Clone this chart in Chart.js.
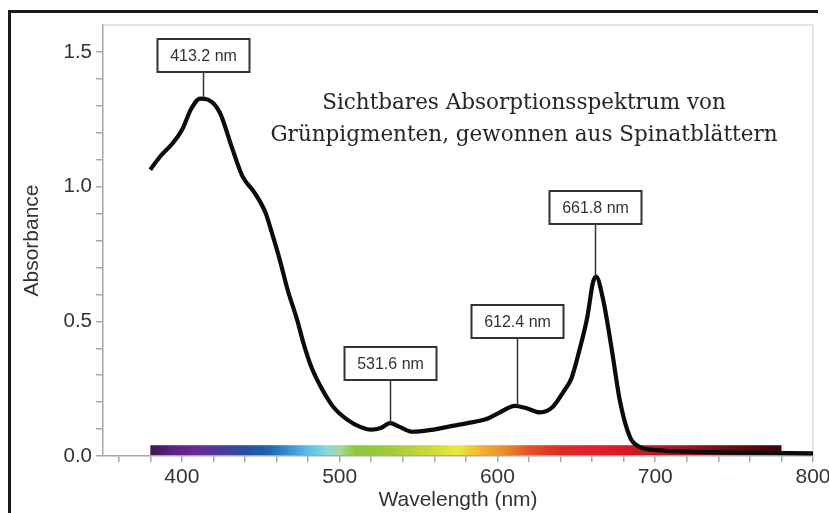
<!DOCTYPE html>
<html>
<head>
<meta charset="utf-8">
<script src="https://cdn.jsdelivr.net/npm/chart.js@4.4.1/dist/chart.umd.min.js"></script>
<style>
  html, body { margin: 0; padding: 0; background: #fff; }
  #wrap { position: relative; width: 829px; height: 513px; overflow: hidden; }
  #frame { position: absolute; left: 8px; top: 10px; width: 807px; height: 520px;
           border-left: 3px solid #1a1a1a; border-top: 3px solid #1a1a1a; }
  canvas { position: absolute; left: 0; top: 0; }
</style>
</head>
<body>
<div id="wrap">
  <div id="frame"></div>
  <canvas id="spectrum-chart" width="829" height="513"></canvas>
</div>
<script>
// --- data ---
const wavelengths = [380, 386, 394, 400, 406, 411.5, 416.5, 424, 432, 438.5, 446, 453, 457, 462, 467, 473, 477, 482,
  488, 496, 505, 513, 520, 526, 532, 538, 546, 558, 570, 581, 593, 601, 611, 618, 627, 635, 642, 647, 652, 657,
  660.5, 662.5, 667, 672.5, 677.5, 684, 690, 701, 728, 760, 800];
const absorbance = [1.063, 1.11, 1.16, 1.21, 1.29, 1.327, 1.323, 1.275, 1.14, 1.037, 0.978, 0.903, 0.829, 0.729, 0.617,
  0.506, 0.42, 0.331, 0.257, 0.182, 0.134, 0.108, 0.098, 0.104, 0.122, 0.108, 0.090, 0.097, 0.110, 0.122, 0.137, 0.160,
  0.186, 0.178, 0.162, 0.182, 0.24, 0.29, 0.394, 0.517, 0.643, 0.666, 0.58, 0.394, 0.208, 0.07, 0.034, 0.022, 0.015,
  0.012, 0.01];

const xTickValues = [360, 380, 400, 420, 440, 460, 480, 500, 520, 540, 560, 580, 600, 620, 640, 660, 680, 700, 720, 740, 760, 780, 800];
const yTickValues = [0, 0.1, 0.2, 0.3, 0.4, 0.5, 0.6, 0.7, 0.8, 0.9, 1.0, 1.1, 1.2, 1.3, 1.4, 1.5];

const peakLabels = ['413.2 nm', '531.6 nm', '612.4 nm', '661.8 nm'];
const peakWavelengths = [413.2, 531.6, 612.4, 661.8];
const peakAbsorbance = [1.33, 0.12, 0.186, 0.666];
const labelLevels = [1.427, 0.283, 0.439, 0.862]; // absorbance at the bottom edge of each label box

const spectrumRange = [380, 780];
const spectrumStops = [
  [380, '#3f1650'], [395, '#5e2385'], [410, '#6a2a96'], [425, '#4b3b9c'], [440, '#2a4fa2'], [455, '#1f62b0'],
  [470, '#3f9ad4'], [482, '#5cc7ea'], [492, '#8fd6da'], [500, '#a8d8a0'], [510, '#8cc63e'], [530, '#9dcb3a'],
  [555, '#c8d83a'], [575, '#ece93e'], [590, '#f0b232'], [605, '#ea8a2c'], [620, '#e25424'], [640, '#dc2a26'],
  [665, '#e01e2c'], [690, '#cc1a22'], [720, '#a0141c'], [750, '#6a0c12'], [780, '#3a0608']
];

const titleLines = ['Sichtbares Absorptionsspektrum von', 'Grünpigmenten, gewonnen aus Spinatblättern'];

const axisGray = '#a8a8a8';
const textGray = '#333';

// light frame round the plot area (top and right)
const plotFrame = {
  id: 'plotFrame',
  beforeDatasetsDraw(chart) {
    const { ctx, chartArea: a } = chart;
    ctx.save();
    ctx.strokeStyle = '#dcdcdc';
    ctx.lineWidth = 1.5;
    ctx.beginPath();
    ctx.moveTo(a.left, a.top);
    ctx.lineTo(a.right, a.top);
    ctx.lineTo(a.right, a.bottom);
    ctx.stroke();
    ctx.restore();
  }
};

// the coloured visible-spectrum strip along the baseline
const spectrumBar = {
  id: 'spectrumBar',
  beforeDatasetsDraw(chart) {
    const { ctx, scales: { x, y } } = chart;
    const x0 = x.getPixelForValue(spectrumRange[0]);
    const x1 = x.getPixelForValue(spectrumRange[1]);
    const yTop = y.getPixelForValue(0.04);
    const yBot = y.getPixelForValue(0) - 1;
    const g = ctx.createLinearGradient(x0, 0, x1, 0);
    const span = spectrumRange[1] - spectrumRange[0];
    spectrumStops.forEach(([w, c]) => g.addColorStop((w - spectrumRange[0]) / span, c));
    ctx.save();
    ctx.fillStyle = g;
    ctx.fillRect(x0, yTop, x1 - x0, yBot - yTop);
    ctx.restore();
  }
};

// peak label boxes with leader lines
const peakCallouts = {
  id: 'peakCallouts',
  afterDatasetsDraw(chart) {
    const { ctx, scales: { x, y } } = chart;
    ctx.save();
    ctx.font = '16px "Liberation Sans", Arial, sans-serif';
    ctx.textAlign = 'center';
    ctx.textBaseline = 'middle';
    peakLabels.forEach((label, i) => {
      const px = Math.round(x.getPixelForValue(peakWavelengths[i])) + 0.5;
      const yBox = Math.round(y.getPixelForValue(labelLevels[i]));
      const yPeak = y.getPixelForValue(peakAbsorbance[i]);
      const w = 92, h = 33;
      ctx.strokeStyle = '#333';
      ctx.lineWidth = 1.5;
      ctx.beginPath();
      ctx.moveTo(px, yBox);
      ctx.lineTo(px, yPeak);
      ctx.stroke();
      ctx.fillStyle = '#fff';
      ctx.fillRect(px - w / 2, yBox - h, w, h);
      ctx.lineWidth = 2;
      ctx.strokeRect(px - w / 2, yBox - h, w, h);
      ctx.fillStyle = textGray;
      ctx.fillText(label, px, yBox - h / 2 + 1);
    });
    ctx.restore();
  }
};

// serif caption inside the plot
const captionText = {
  id: 'captionText',
  afterDraw(chart) {
    const { ctx } = chart;
    ctx.save();
    ctx.font = '21.5px "DejaVu Serif", serif';
    ctx.fillStyle = '#262626';
    ctx.textAlign = 'center';
    ctx.textBaseline = 'middle';
    titleLines.forEach((line, i) => ctx.fillText(line, 524, 103 + i * 32));
    ctx.restore();
  }
};

const sansFont = '"Liberation Sans", Arial, sans-serif';

new Chart(document.getElementById('spectrum-chart').getContext('2d'), {
  type: 'line',
  data: {
    datasets: [{
      data: wavelengths.map((w, i) => ({ x: w, y: absorbance[i] })),
      borderColor: '#0b0b0b',
      borderWidth: 4.2,
      pointRadius: 0,
      fill: false,
      cubicInterpolationMode: 'monotone'
    }]
  },
  options: {
    responsive: false,
    animation: false,
    devicePixelRatio: 1,
    layout: { padding: { left: 0, top: 25, right: 16, bottom: 0 } },
    plugins: { legend: { display: false }, tooltip: { enabled: false } },
    scales: {
      x: {
        type: 'linear',
        min: 350, max: 800,
        afterBuildTicks: (s) => { s.ticks = xTickValues.map(v => ({ value: v })); },
        afterFit: (s) => { s.height = 57; s.paddingLeft = 0; s.paddingRight = 0; },
        ticks: {
          callback: (v) => (v % 100 === 0 ? String(v) : ''),
          font: { family: sansFont, size: 21 }, color: textGray,
          padding: 3, maxRotation: 0, autoSkip: false
        },
        grid: { drawOnChartArea: false, tickLength: 6, color: axisGray, tickColor: axisGray, lineWidth: 1.5 },
        border: { color: axisGray, width: 1.5 },
        title: { display: true, text: 'Wavelength (nm)', font: { family: sansFont, size: 21 }, color: textGray,
                 padding: { top: 0, bottom: 0 } }
      },
      y: {
        min: 0, max: 1.6,
        afterBuildTicks: (s) => { s.ticks = yTickValues.map(v => ({ value: v })); },
        afterFit: (s) => { s.width = 103; s.paddingTop = 0; s.paddingBottom = 0; },
        ticks: {
          callback: (v) => (Math.abs(v * 2 - Math.round(v * 2)) < 1e-6 ? v.toFixed(1) : ''),
          font: { family: sansFont, size: 20.5 }, color: textGray, padding: 4, autoSkip: false
        },
        grid: { drawOnChartArea: false, tickLength: 7, color: axisGray, tickColor: axisGray, lineWidth: 1.5 },
        border: { color: axisGray, width: 1.5 },
        title: { display: true, text: 'Absorbance', font: { family: sansFont, size: 21 }, color: textGray,
                 padding: { top: 20, bottom: 0 } }
      }
    }
  },
  plugins: [plotFrame, spectrumBar, peakCallouts, captionText]
});
</script>
</body>
</html>
